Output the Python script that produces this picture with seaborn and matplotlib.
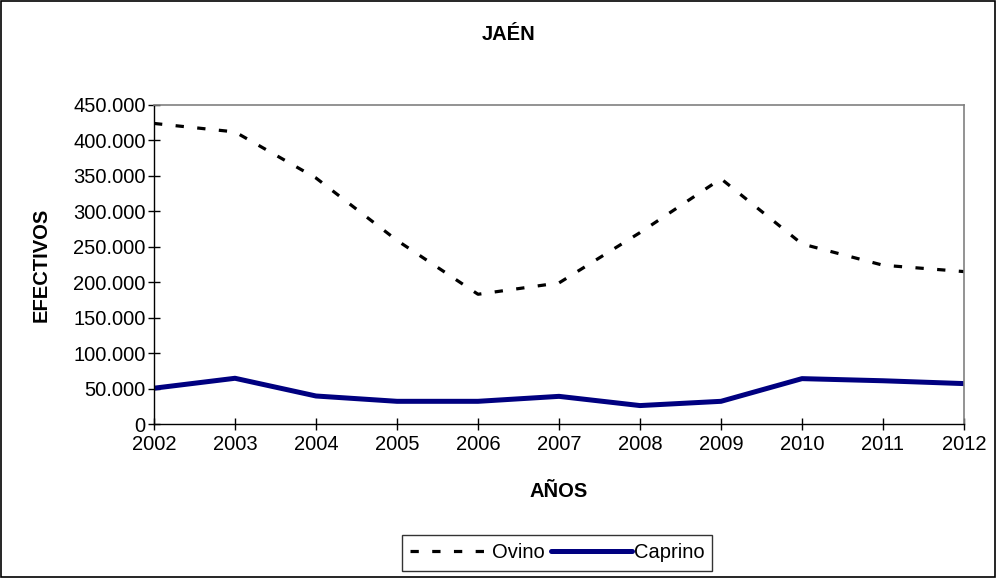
import matplotlib
matplotlib.use("Agg")
import matplotlib.pyplot as plt
import matplotlib.ticker as mticker
from matplotlib.patches import Rectangle
import pandas as pd
import seaborn as sns

# values
years = [2002, 2003, 2004, 2005, 2006, 2007, 2008, 2009, 2010, 2011, 2012]
ovino = [424000, 412000, 347000, 259000, 183000, 199000, 270000, 346000, 254000, 224000, 215000]
caprino = [50500, 64500, 39500, 32000, 32000, 39000, 26000, 32000, 64000, 61000, 57000]

df = pd.DataFrame({
    "AÑOS": years * 2,
    "EFECTIVOS": ovino + caprino,
    "serie": ["Ovino"] * len(years) + ["Caprino"] * len(years),
})

sns.set_style("white")
plt.rcParams["font.family"] = ["Liberation Sans", "DejaVu Sans"]
plt.rcParams["text.color"] = "black"
plt.rcParams["axes.labelcolor"] = "black"
plt.rcParams["xtick.color"] = "black"
plt.rcParams["ytick.color"] = "black"

fs = 14.5

fig = plt.figure(figsize=(9.96, 5.78), dpi=100)
ax = fig.add_axes([154 / 996, 1 - 424 / 578, (964 - 154) / 996, (424 - 105) / 578])

sns.lineplot(data=df[df["serie"] == "Ovino"], x="AÑOS", y="EFECTIVOS", ax=ax,
             color="black", linewidth=2.3, label="Ovino")
sns.lineplot(data=df[df["serie"] == "Caprino"], x="AÑOS", y="EFECTIVOS", ax=ax,
             color="#000080", linewidth=3.6, label="Caprino")
ax.lines[0].set_dashes((2.6, 4.2))

ax.set_xlim(2002, 2012)
ax.set_ylim(0, 450000)
ax.set_xticks(years)
ax.set_yticks(range(0, 450001, 50000))
ax.yaxis.set_major_formatter(mticker.FuncFormatter(
    lambda v, p: "0" if v == 0 else f"{int(v):,}".replace(",", ".")))
ax.tick_params(axis="both", direction="inout", length=8, width=1, color="black",
               labelsize=fs, labelcolor="black", bottom=True, left=True, pad=2)
ax.tick_params(axis="x", pad=4)

for s in ["left", "bottom"]:
    ax.spines[s].set_color("black")
    ax.spines[s].set_linewidth(1)
for s in ["top", "right"]:
    ax.spines[s].set_color("#808080")
    ax.spines[s].set_linewidth(1.2)

ax.set_xlabel("AÑOS", fontsize=fs, fontweight="bold", labelpad=20, color="black")
ax.set_ylabel("EFECTIVOS", fontsize=fs, fontweight="bold", labelpad=16, color="black")
fig.text(509 / 996, 1 - 35 / 578, "JAÉN", ha="center", va="center",
         fontsize=fs, fontweight="bold", color="black")

leg = ax.legend(loc="center", bbox_to_anchor=(557 / 996, 1 - 553 / 578),
                bbox_transform=fig.transFigure, ncol=2, frameon=True,
                fancybox=False, fontsize=fs, handlelength=4.0, handletextpad=0.1,
                columnspacing=0.3, borderpad=0.4)
leg.get_frame().set_edgecolor("black")
leg.get_frame().set_linewidth(1)
for t in leg.get_texts():
    t.set_color("black")

fig.patches.append(Rectangle((0.001, 0.001), 0.998, 0.997, transform=fig.transFigure,
                             fill=False, edgecolor="black", linewidth=1.2))

fig.savefig("out.png", dpi=100)
